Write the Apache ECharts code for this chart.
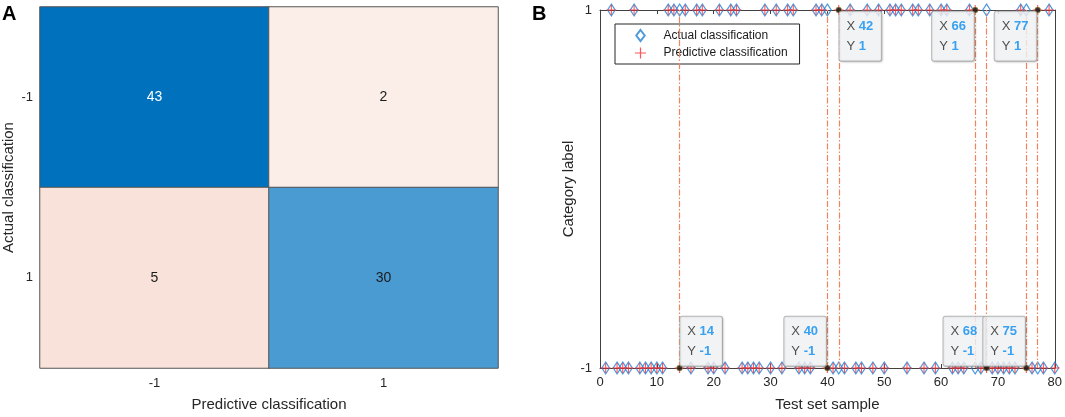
<!DOCTYPE html>
<html>
<head>
<meta charset="utf-8">
<script src="https://cdn.jsdelivr.net/npm/echarts@6.0.0/dist/echarts.min.js"></script>
<style>
  html, body { margin: 0; padding: 0; background: #fff; }
  #main { width: 1065px; height: 417px; }
</style>
</head>
<body>
<div id="main"></div>
<script>
// panel A: confusion matrix (rows = actual, cols = predicted)
const classLabels = ['-1', '1'];
const confusion = [
  [43, 2],
  [5, 30]
];
const cellColors = [
  ['#0071BC', '#FBEEE8'],
  ['#F8E2D9', '#4B9BD3']
];

// panel B: label of each test sample (sample 1..80)
const actualLabel = [
  -1, 1, -1, -1, -1, 1, -1, -1, -1, -1,
  -1, 1, 1, 1, 1, -1, 1, 1, -1, -1,
  1, -1, 1, 1, -1, -1, -1, -1, 1, -1,
  1, -1, 1, 1, -1, -1, -1, 1, 1, 1,
  -1, -1, -1, 1, -1, -1, 1, -1, 1, -1,
  1, 1, 1, -1, 1, 1, -1, 1, -1, 1,
  1, -1, -1, -1, 1, -1, -1, 1, -1, -1,
  -1, -1, -1, 1, 1, -1, -1, -1, 1, -1
];
const predictedLabel = [
  -1, 1, -1, -1, -1, 1, -1, -1, -1, -1,
  -1, 1, 1, -1, 1, -1, 1, 1, -1, -1,
  1, -1, 1, 1, -1, -1, -1, -1, 1, -1,
  1, -1, 1, 1, -1, -1, -1, 1, 1, -1,
  -1, 1, -1, 1, -1, -1, 1, -1, 1, -1,
  1, 1, 1, -1, 1, 1, -1, 1, -1, 1,
  1, -1, -1, -1, 1, 1, -1, -1, -1, -1,
  -1, -1, -1, 1, -1, -1, 1, -1, 1, -1
];
// samples with a data tip (the misclassified ones)
const tipSamples = [14, 40, 42, 66, 68, 75, 77];
const tipSide = ['ru', 'lu', 'rd', 'ld', 'lu', 'lu', 'ld'];

const FONT = 'Arial, "Liberation Sans", Helvetica, sans-serif';
const AXIS_COLOR = '#404040';

const heatData = [];
confusion.forEach((row, r) => {
  row.forEach((v, c) => {
    heatData.push({
      value: [c, r, v],
      itemStyle: { color: cellColors[r][c] },
      label: { color: v > 35 ? '#fff' : '#1a1a1a' }
    });
  });
});

const actualData = actualLabel.map((y, i) => [i + 1, y]);
const predictedData = predictedLabel.map((y, i) => [i + 1, y]);

function tipLabel(side) {
  const right = side[0] === 'r';
  const up = side[1] === 'u';
  return {
    position: [right ? 4 : 2, up ? 1 : 5],
    align: right ? 'left' : 'right',
    verticalAlign: up ? 'bottom' : 'top'
  };
}
const tipData = tipSamples.map((s, i) => ({
  value: [s, predictedLabel[s - 1]],
  label: tipLabel(tipSide[i])
}));

const chart = echarts.init(document.getElementById('main'));
chart.setOption({
  backgroundColor: '#fff',
  animation: false,
  textStyle: { fontFamily: FONT },
  graphic: [
    { type: 'text', left: 2, top: 4, style: { text: 'A', font: 'bold 20px ' + FONT, fill: '#000' } },
    { type: 'text', left: 532, top: 4, style: { text: 'B', font: 'bold 20px ' + FONT, fill: '#000' } }
  ],
  legend: {
    data: ['Actual classification', 'Predictive classification'],
    orient: 'vertical',
    left: 615,
    top: 24,
    padding: [5, 12, 5, 20],
    itemGap: 5,
    itemWidth: 36,
    itemHeight: 11,
    backgroundColor: '#fff',
    borderColor: '#262626',
    borderWidth: 1,
    textStyle: { fontSize: 12, color: '#1a1a1a', fontFamily: FONT }
  },
  grid: [
    { left: 38, top: 7, width: 460, height: 362 },
    { left: 600, top: 10, width: 455, height: 358 }
  ],
  xAxis: [
    {
      gridIndex: 0, type: 'category', data: classLabels,
      axisLine: { show: false }, axisTick: { show: false },
      axisLabel: { fontSize: 13, color: '#262626', margin: 9 },
      name: 'Predictive classification', nameLocation: 'middle', nameGap: 29,
      nameTextStyle: { fontSize: 15, color: '#262626' }
    },
    {
      gridIndex: 1, type: 'value', min: 0, max: 80, interval: 10, position: 'bottom',
      axisLine: { onZero: false, lineStyle: { color: AXIS_COLOR } },
      axisTick: { inside: true, length: 4, lineStyle: { color: AXIS_COLOR } },
      axisLabel: { fontSize: 13, color: '#262626', margin: 8 },
      splitLine: { show: false },
      name: 'Test set sample', nameLocation: 'middle', nameGap: 29,
      nameTextStyle: { fontSize: 15, color: '#262626' }
    },
    {
      gridIndex: 1, type: 'value', min: 0, max: 80, interval: 10, position: 'top',
      axisLine: { onZero: false, lineStyle: { color: AXIS_COLOR } },
      axisTick: { inside: true, length: 4, lineStyle: { color: AXIS_COLOR } },
      axisLabel: { show: false },
      splitLine: { show: false }
    }
  ],
  yAxis: [
    {
      gridIndex: 0, type: 'category', data: classLabels, inverse: true,
      axisLine: { show: false }, axisTick: { show: false },
      axisLabel: { fontSize: 13, color: '#262626', margin: 7 },
      name: 'Actual classification', nameLocation: 'middle', nameGap: 24,
      nameTextStyle: { fontSize: 15, color: '#262626' }
    },
    {
      gridIndex: 1, type: 'value', min: -1, max: 1, position: 'left',
      axisLine: { show: true, onZero: false, lineStyle: { color: AXIS_COLOR } },
      axisTick: { show: true, inside: true, length: 4, customValues: [-1, 1], lineStyle: { color: AXIS_COLOR } },
      axisLabel: { fontSize: 13, color: '#262626', margin: 8, customValues: [-1, 1] },
      splitLine: { show: false },
      name: 'Category label', nameLocation: 'middle', nameGap: 24,
      nameTextStyle: { fontSize: 15, color: '#262626' }
    },
    {
      gridIndex: 1, type: 'value', min: -1, max: 1, position: 'right',
      axisLine: { show: true, onZero: false, lineStyle: { color: AXIS_COLOR } },
      axisTick: { show: false },
      axisLabel: { show: false },
      splitLine: { show: false }
    }
  ],
  series: [
    {
      type: 'heatmap',
      xAxisIndex: 0, yAxisIndex: 0,
      data: heatData,
      itemStyle: { borderColor: '#555', borderWidth: 1 },
      label: { show: true, fontSize: 14, fontFamily: FONT },
      emphasis: { disabled: true }
    },
    {
      name: 'misclassified',
      type: 'line',
      xAxisIndex: 1, yAxisIndex: 1,
      data: [],
      silent: true,
      z: 1,
      markLine: {
        silent: true,
        symbol: 'none',
        label: { show: false },
        lineStyle: { color: '#F2845C', width: 1.2, type: [6, 2, 1.5, 2] },
        data: tipSamples.map(s => ({ xAxis: s }))
      }
    },
    {
      name: 'Actual classification',
      type: 'scatter',
      xAxisIndex: 1, yAxisIndex: 1,
      symbol: 'path://M5,0L10,6.5L5,13L0,6.5Z',
      symbolSize: [10, 12],
      symbolKeepAspect: true,
      clip: false,
      z: 3,
      itemStyle: { color: 'rgba(255,255,255,0)', borderColor: '#2380D6', borderWidth: 1.2 },
      data: actualData
    },
    {
      name: 'Predictive classification',
      type: 'scatter',
      xAxisIndex: 1, yAxisIndex: 1,
      symbol: 'path://M4.45,0H5.55V10H4.45Z M0,4.45H10V5.55H0Z',
      symbolSize: [10, 10],
      clip: false,
      z: 4,
      itemStyle: { color: '#FF2A2A' },
      data: predictedData
    },
    {
      name: 'tips',
      type: 'scatter',
      xAxisIndex: 1, yAxisIndex: 1,
      symbol: 'circle',
      symbolSize: 6,
      clip: false,
      z: 6,
      itemStyle: { color: '#111', borderColor: '#C9B24A', borderWidth: 0.6 },
      label: {
        show: true,
        formatter: p => '{k|X }{v|' + p.value[0] + '}\n{k|Y }{v|' + p.value[1] + '}',
        backgroundColor: '#F6F7FA',
        borderColor: '#A8A8A8',
        borderWidth: 1,
        borderRadius: 2,
        padding: [5, 8, 4, 7],
        shadowColor: 'rgba(0,0,0,0.15)',
        shadowBlur: 2,
        shadowOffsetX: 1,
        shadowOffsetY: 1,
        lineHeight: 20,
        rich: {
          k: { fontSize: 13, color: '#262626', lineHeight: 20, align: 'left', fontFamily: FONT },
          v: { fontSize: 13, color: '#0A8CF0', fontWeight: 'bold', lineHeight: 20, align: 'left', fontFamily: FONT }
        }
      },
      data: tipData
    }
  ]
});
</script>
</body>
</html>
